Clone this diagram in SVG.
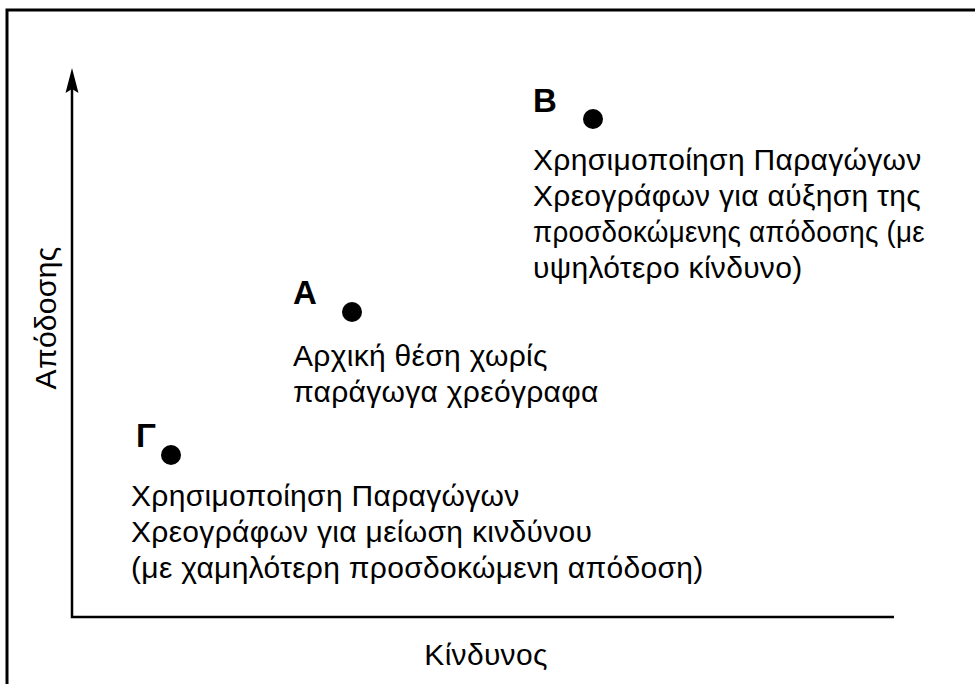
<svg xmlns="http://www.w3.org/2000/svg" width="975" height="684" viewBox="0 0 975 684">
<defs>
<style>
.t{font-family:"Liberation Sans",Arial,sans-serif;font-size:30px;letter-spacing:0.3px;fill:#000}
.b{font-family:"Liberation Sans",Arial,sans-serif;font-size:33px;font-weight:bold;fill:#000}
.ax{stroke:#000;stroke-width:2.5;fill:none}
.dot{fill:#000}
</style>
</defs>
<rect width="975" height="684" fill="#fff"/>
<rect x="7" y="10" width="1000" height="700" fill="none" stroke="#000" stroke-width="3"/>
<g id="connectors">
<path class="ax" d="M72,88 L72,617 L894,617"/>
<path d="M72,68 L78.5,93 L72,89 L65.5,93 Z" fill="#000"/>
</g>
<g id="axis-labels">
<text class="t" x="486" y="665" text-anchor="middle">Κίνδυνος</text>
<text class="t" transform="translate(56,318) rotate(-90)" text-anchor="middle">Απόδοσης</text>
</g>
<g id="node-B">
<text class="b" x="533" y="112">Β</text>
<circle class="dot" cx="593" cy="119" r="10"/>
<text class="t" x="533" y="170">Χρησιμοποίηση Παραγώγων</text>
<text class="t" x="533" y="206">Χρεογράφων για αύξηση της</text>
<text class="t" x="533" y="242" textLength="392" lengthAdjust="spacingAndGlyphs">προσδοκώμενης απόδοσης (με</text>
<text class="t" x="533" y="278">υψηλότερο κίνδυνο)</text>
</g>
<g id="node-A">
<text class="b" x="293" y="304">Α</text>
<circle class="dot" cx="352" cy="312" r="10"/>
<text class="t" x="293" y="366">Αρχική θέση χωρίς</text>
<text class="t" x="293" y="402">παράγωγα χρεόγραφα</text>
</g>
<g id="node-G">
<text class="b" x="136" y="447">Γ</text>
<circle class="dot" cx="171" cy="455" r="10"/>
<text class="t" x="131" y="506">Χρησιμοποίηση Παραγώγων</text>
<text class="t" x="131" y="542">Χρεογράφων για μείωση κινδύνου</text>
<text class="t" x="131" y="578">(με χαμηλότερη προσδοκώμενη απόδοση)</text>
</g>
</svg>
